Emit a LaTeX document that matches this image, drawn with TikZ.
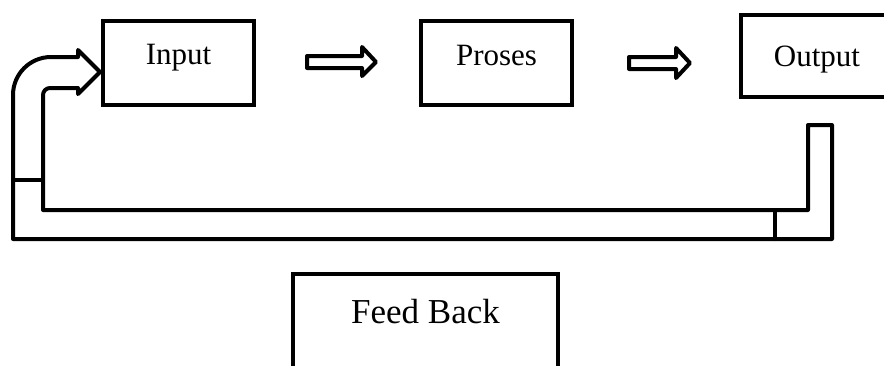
\documentclass[tikz,border=0pt]{standalone}
\usepackage{fontspec}
\setmainfont{Liberation Serif}
\begin{document}
\begin{tikzpicture}[x=1pt,y=-1pt,
  box/.style={draw, line width=4.5pt, inner sep=0pt, outer sep=0pt},
  lbl/.style={font=\fontsize{31}{36}\selectfont, inner sep=0pt, anchor=base},
  fat/.style={line width=4pt, line join=round, line cap=round}]
\clip (0,0) rectangle (884,365);
\fill[white] (0,0) rectangle (884,365);
% boxes
\node[box, minimum width=151pt, minimum height=84pt] (input) at (178.5,63) {};
\node[box, minimum width=151pt, minimum height=84pt] (proses) at (496.5,63) {};
\node[box, minimum width=152pt, minimum height=82pt] (output) at (817,56) {};
\node[box, minimum width=265pt, minimum height=200pt, anchor=north] (fb) at (425.5,274) {};
% labels
\node[lbl] (tin) at (178.5,64) {Input};
\node[lbl] (tpr) at (496.5,65) {Proses};
\node[lbl] (tout) at (817,66) {Output};
\node[lbl, font=\fontsize{35}{40}\selectfont] (tfb) at (425.5,323) {Feed Back};
% block arrows
\draw[fat] (307,56) -- (362,56) -- (362,47) -- (376,62) -- (362,76) -- (362,68) -- (307,68) -- cycle;
\draw[fat] (629,57) -- (676,57) -- (676,48) -- (690,63) -- (676,78) -- (676,69) -- (629,69) -- cycle;
% feedback path
\draw[fat, line join=miter] (832,125) -- (832,239) -- (13,239) -- (13,95)
  arc[start angle=180, end angle=270, radius=38] -- (78,57) -- (78,50)
  [line join=round] -- (100,72) -- (78,94) -- (78,88) -- (50,88)
  arc[start angle=270, end angle=180, radius=7] -- (43,210) -- (808,210) -- (808,125) -- cycle;
\draw[fat] (13,180) -- (43,180);
\draw[fat] (775,210) -- (775,239);
\end{tikzpicture}
\end{document}
